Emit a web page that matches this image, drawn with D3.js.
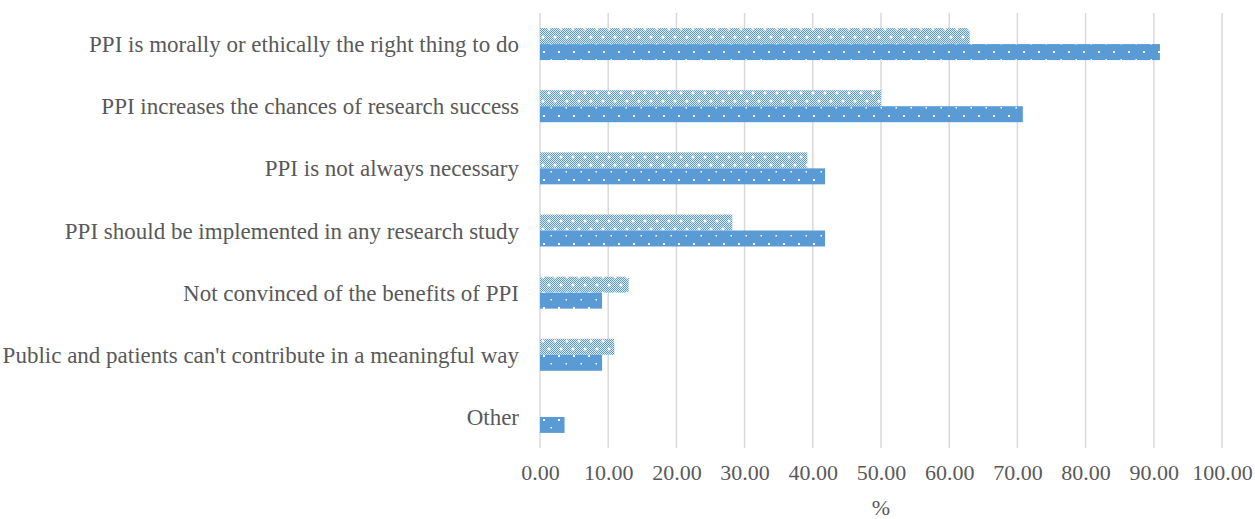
<!DOCTYPE html>
<html>
<head>
<meta charset="utf-8">
<script src="https://cdn.jsdelivr.net/npm/d3@7"></script>
<style>
  html, body { margin: 0; padding: 0; background: #fff; }
  svg { display: block; }
  .lbl { font-family: "Liberation Serif", "Times New Roman", serif; }
</style>
</head>
<body>
<svg id="chart" width="1255" height="519"></svg>
<script>
const categories = [
  "PPI is morally or ethically the right thing to do",
  "PPI increases the chances of research success",
  "PPI is not always necessary",
  "PPI should be implemented in any research study",
  "Not convinced of the benefits of PPI",
  "Public and patients can't contribute in a meaningful way",
  "Other"
];
const seriesLight = [63.0, 50.0, 39.2, 28.2, 13.0, 10.9, 0];
const seriesDark  = [90.9, 70.8, 41.8, 41.8, 9.1, 9.1, 3.6];
const xTicks = [0, 10, 20, 30, 40, 50, 60, 70, 80, 90, 100];
const axisTitle = "%";

const svg = d3.select("#chart");
const plotLeft = 540, plotRight = 1222, plotTop = 13, plotBottom = 448;
const blue = "#5b9bd5";
const textColor = "#595959";

const defs = svg.append("defs");
const pd = defs.append("pattern").attr("id", "pDark")
  .attr("patternUnits", "userSpaceOnUse").attr("width", 15).attr("height", 16);
pd.append("rect").attr("width", 15).attr("height", 16).attr("fill", blue);
pd.append("rect").attr("x", 3).attr("y", 3).attr("width", 2).attr("height", 2).attr("fill", "#fff");
pd.append("rect").attr("x", 10.5).attr("y", 11).attr("width", 1.5).attr("height", 1.5).attr("fill", "#fff");

const pl = defs.append("pattern").attr("id", "pLight")
  .attr("patternUnits", "userSpaceOnUse").attr("width", 12).attr("height", 16);
pl.append("rect").attr("width", 12).attr("height", 16).attr("fill", "#ffffff");
for (let i = 0; i < 12; i += 2) {
  for (let j = 0; j < 16; j += 2) {
    pl.append("rect").attr("x", i).attr("y", j).attr("width", 1).attr("height", 1).attr("fill", blue);
    pl.append("rect").attr("x", i + 1).attr("y", j + 1).attr("width", 1).attr("height", 1).attr("fill", blue);
  }
}
pl.append("rect").attr("width", 12).attr("height", 16).attr("fill", blue).attr("opacity", 0.2);
pl.append("circle").attr("cx", 3).attr("cy", 5).attr("r", 1.5).attr("fill", "#fff");
pl.append("circle").attr("cx", 9).attr("cy", 13).attr("r", 1.5).attr("fill", "#fff");

const x = d3.scaleLinear().domain([0, 100]).range([plotLeft, plotRight]);
const y = d3.scaleBand().domain(categories).range([plotTop, plotBottom])
  .paddingInner(0.485).paddingOuter(0.2425);
const ySub = d3.scaleBand().domain(["light", "dark"]).range([0, y.bandwidth()]);

svg.append("g").selectAll("line").data(xTicks).join("line")
  .attr("x1", d => x(d)).attr("x2", d => x(d))
  .attr("y1", plotTop).attr("y2", plotBottom)
  .attr("stroke", "#d9d9d9").attr("stroke-width", 1.5);

const rows = categories.map((c, i) => ({ c, light: seriesLight[i], dark: seriesDark[i] }));
const g = svg.append("g");
g.selectAll("rect.light").data(rows).join("rect").attr("class", "light")
  .attr("x", x(0)).attr("y", d => y(d.c) + ySub("light"))
  .attr("width", d => x(d.light) - x(0)).attr("height", ySub.bandwidth())
  .attr("fill", "url(#pLight)");
g.selectAll("rect.dark").data(rows).join("rect").attr("class", "dark")
  .attr("x", x(0)).attr("y", d => y(d.c) + ySub("dark"))
  .attr("width", d => x(d.dark) - x(0)).attr("height", ySub.bandwidth())
  .attr("fill", "url(#pDark)");

const xAxis = svg.append("g").attr("transform", `translate(0,${plotBottom})`)
  .call(d3.axisBottom(x).tickValues(xTicks).tickSize(0).tickFormat(d3.format(".2f")))
  .attr("font-family", null).attr("font-size", null);
xAxis.select(".domain").remove();
xAxis.selectAll("text").attr("class", "lbl").attr("y", 32).attr("dy", 0)
  .attr("fill", textColor).attr("font-size", 22);

const yAxis = svg.append("g").attr("transform", `translate(${plotLeft},0)`)
  .call(d3.axisLeft(y).tickSize(0).tickPadding(21))
  .attr("font-family", null).attr("font-size", null);
yAxis.select(".domain").remove();
yAxis.selectAll("text").attr("class", "lbl").attr("dy", "0.35em")
  .attr("fill", textColor).attr("font-size", 23);

svg.append("text").attr("class", "lbl").attr("x", (plotLeft + plotRight) / 2).attr("y", 515)
  .attr("text-anchor", "middle").attr("fill", textColor)
  .attr("font-size", 22).text(axisTitle);
</script>
</body>
</html>
